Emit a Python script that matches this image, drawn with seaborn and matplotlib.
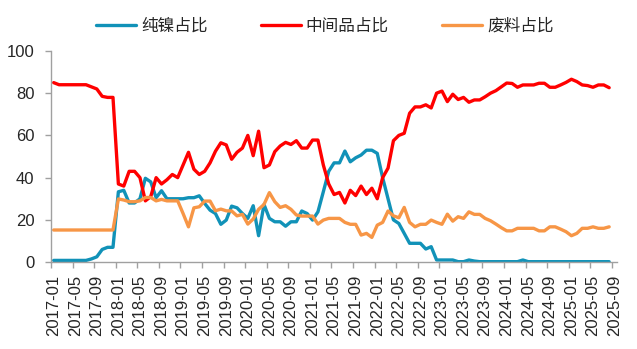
import matplotlib
matplotlib.use("Agg")
import matplotlib.pyplot as plt
import seaborn as sns
import pandas as pd
import numpy as np

# ---- data ----
months = [str(p) for p in pd.period_range("2017-01", periods=105, freq="M")]

pure_nickel = [0.8] * 7 + [1.5, 2.5, 6, 7, 7,
    33.3, 34, 28, 28, 30, 39.7, 38, 30.5, 33.8, 30,
    30, 30, 30, 30.5, 30.5, 31.4, 27.8, 24.6, 23, 17.9,
    19.9, 26.5, 25.7, 23, 20.7, 26.7, 12.5, 27.3, 20.7, 19.1,
    19.1, 17, 19.1, 19.1, 24.2, 23, 19.9, 23.8, 33.3, 43,
    47, 47, 52.6, 47.5, 49.4, 50.7, 53, 53, 51.5, 40,
    30, 20, 18.3, 13.6, 8.9, 8.9, 8.9, 6.2, 7.3, 1,
    1, 1, 1, 0.2, 0.2,
    1, 0.5] + [0.2] * 8 + [1] + [0.2] * 16

intermediate = [85, 84, 84, 84, 84, 84, 84, 83, 82, 78.5, 78, 78,
    37, 36, 43, 43, 40, 29, 31, 40, 37, 39,
    41.5, 40, 46, 52, 44, 41.5, 43, 47, 52.5, 56.5,
    55.5, 48.7, 52, 54, 60, 50.4, 62, 44.7, 46, 52.3,
    55, 56.7, 55.7, 57.5, 54, 54, 57.8, 57.8, 46, 37,
    32, 33, 28, 34, 31.5, 36, 32, 35, 30, 40,
    44.5, 57.5, 60, 61, 70.5, 73.5, 73.5, 74.5, 73, 80,
    81, 76, 79.5, 77, 78,
    75.7, 76.8, 76.8, 78.3, 80, 81.2, 83, 84.8, 84.6, 82.8,
    83.9, 83.9, 83.9, 84.7, 84.7, 82.8, 82.8, 83.9, 85.1, 86.6,
    85.5, 83.9, 83.6, 82.8, 83.9, 83.9, 82.6]

scrap = [15.2] * 12 + [29.9, 29.4, 28.6, 28.6, 29, 30.6, 30.6, 29, 29.7, 29,
    29, 29, 23, 16.7, 25.7, 26.2, 28.9, 28.9, 24.3, 25.1,
    24.3, 24.2, 21.9, 22.6, 18, 20.4, 25, 27.3, 32.9, 28.6,
    25.9, 26.7, 25, 22.3, 21.8, 21.8, 21.8, 18, 19.9, 20.7,
    20.7, 20.7, 18.8, 17.9, 17.9, 12.8, 13.6, 11.7, 17.5, 18.8,
    24.2, 21.9, 21, 25.9, 18.8, 16.7, 17.9, 17.9, 19.9, 18.8,
    17.9, 22.7, 19.4, 21.5, 20.7,
    23.8, 22.6, 22.6, 20.7, 19.6, 18, 16.3, 14.8, 14.8, 16,
    16, 16, 16, 14.8, 14.8, 16.7, 16.7, 15.6, 14.4, 12.5,
    13.6, 16, 16, 16.7, 16, 16, 16.7]

series_names = ["纯镍占比", "中间品占比", "废料占比"]
series_colors = ["#1192B8", "#FF0000", "#F79646"]

frames = []
for name, vals in zip(series_names, [pure_nickel, intermediate, scrap]):
    frames.append(pd.DataFrame({"idx": np.arange(len(vals)), "value": vals, "series": name}))
df = pd.concat(frames, ignore_index=True)

# ---- plot ----
sns.set_style("white")
plt.rcParams["font.family"] = ["Liberation Sans", "Noto Sans CJK SC", "DejaVu Sans"]

fig = plt.figure(figsize=(6.37, 3.49), dpi=100)
ax = fig.add_axes([0.080, 0.249, 0.889, 0.605])

sns.lineplot(data=df, x="idx", y="value", hue="series", hue_order=series_names,
             palette=dict(zip(series_names, series_colors)), linewidth=2.4,
             ax=ax, legend=False)

ax.set_xlim(-0.5, 104.5)
ax.set_ylim(0, 100)
ax.set_yticks(range(0, 101, 20))
ax.tick_params(axis="y", labelsize=12, length=4, width=1, color="#A0A0A0", pad=8, direction="out", left=True)

major = list(range(0, 105, 4))
ax.set_xticks(major)
ax.set_xticklabels([months[i] for i in major], rotation=90, fontsize=12)
ax.tick_params(axis="x", which="major", length=0, pad=9)
ax.set_xticks([-0.5 + 4 * k for k in range(27)], minor=True)
ax.tick_params(axis="x", which="minor", length=4, width=1, color="#A0A0A0", direction="out", bottom=True)

ax.set_xlabel("")
ax.set_ylabel("")
for s in ["top", "right"]:
    ax.spines[s].set_visible(False)
for s in ["left", "bottom"]:
    ax.spines[s].set_color("#A0A0A0")
    ax.spines[s].set_linewidth(1)

from matplotlib.lines import Line2D
handles = [Line2D([], [], color=c, linewidth=2.4) for c in series_colors]
fig.legend(handles, series_names, loc="center", bbox_to_anchor=(0.51, 0.925), ncol=3,
           frameon=False, fontsize=12, handlelength=2.4, handletextpad=0.3, columnspacing=3.2,
           prop={"family": ["Noto Sans CJK SC", "DejaVu Sans"], "size": 12})

fig.savefig("out.png", dpi=100)
